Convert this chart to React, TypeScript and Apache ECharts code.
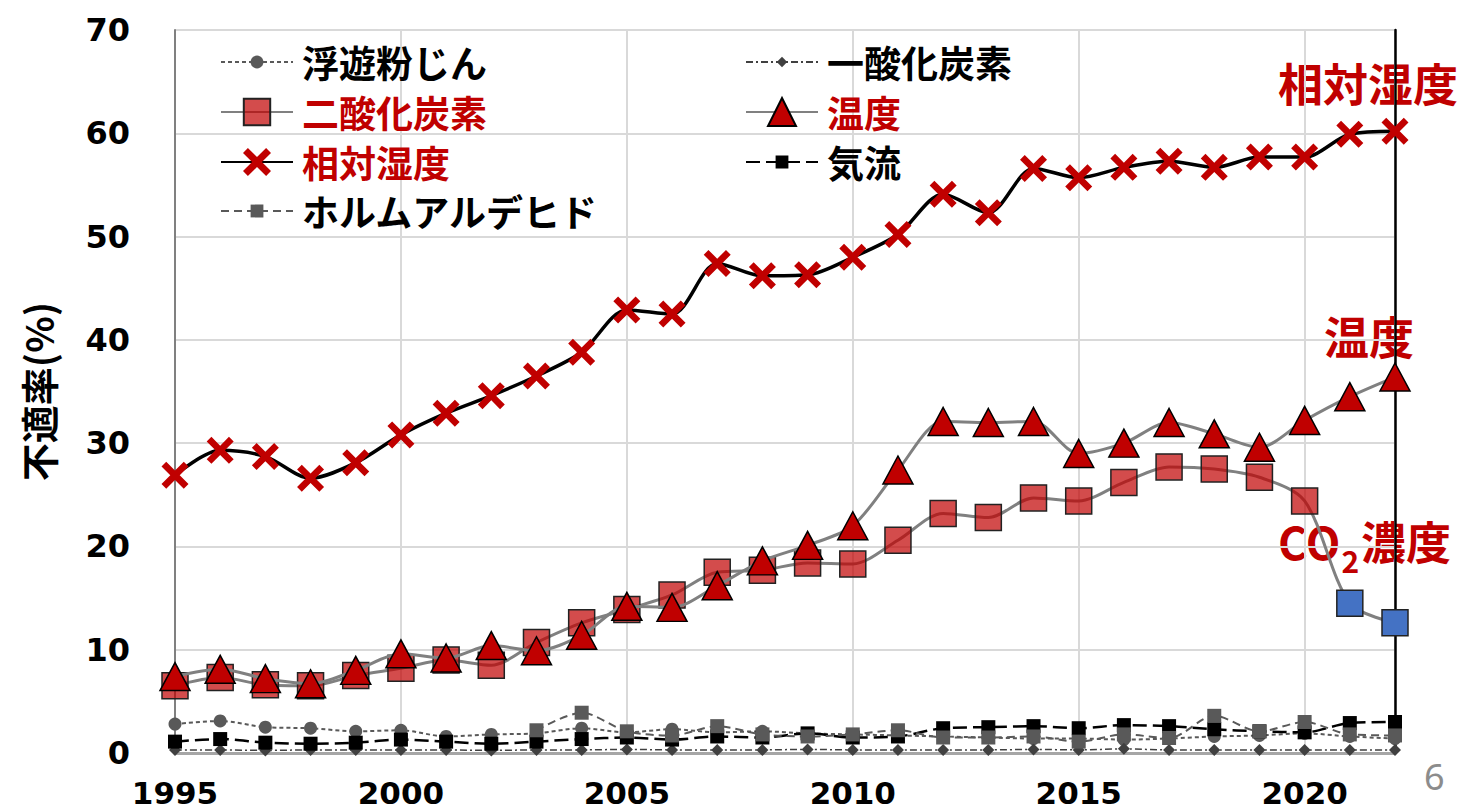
import React, { useEffect, useRef } from "react";
import * as echarts from "echarts";

const years = [1995, 1996, 1997, 1998, 1999, 2000, 2001, 2002, 2003, 2004, 2005, 2006, 2007, 2008, 2009, 2010, 2011, 2012, 2013, 2014, 2015, 2016, 2017, 2018, 2019, 2020, 2021, 2022];

const dust = [2.8, 3.1, 2.5, 2.4, 2.1, 2.2, 1.6, 1.8, 1.9, 2.4, 2.0, 2.3, 2.0, 2.1, 1.9, 1.8, 1.7, 1.6, 1.5, 1.4, 1.4, 1.3, 1.4, 1.6, 1.7, 1.9, 1.6, 1.4];
const carbonMonoxide = [0.3, 0.3, 0.25, 0.3, 0.3, 0.3, 0.3, 0.25, 0.3, 0.3, 0.35, 0.3, 0.3, 0.3, 0.35, 0.3, 0.3, 0.3, 0.3, 0.35, 0.3, 0.4, 0.3, 0.3, 0.3, 0.3, 0.3, 0.3];
const carbonDioxide = [6.5, 7.3, 6.6, 6.5, 7.5, 8.2, 9.0, 8.5, 10.7, 12.6, 13.9, 15.3, 17.5, 17.7, 18.4, 18.3, 20.6, 23.2, 22.8, 24.7, 24.4, 26.2, 27.7, 27.5, 26.7, 24.4, 14.5, 12.6];
const temperature = [7.4, 8.1, 7.2, 6.7, 8.0, 9.6, 9.2, 10.4, 9.9, 11.4, 14.2, 14.1, 16.2, 18.6, 20.1, 22.0, 27.4, 32.1, 32.0, 32.1, 29.0, 30.0, 32.0, 30.9, 29.6, 32.2, 34.5, 36.4];
const humidity = [26.9, 29.3, 28.7, 26.6, 28.1, 30.8, 32.9, 34.6, 36.5, 38.8, 42.9, 42.5, 47.4, 46.2, 46.3, 48.0, 50.2, 54.1, 52.3, 56.6, 55.7, 56.7, 57.3, 56.7, 57.7, 57.7, 59.9, 60.2];
const airflow = [1.1, 1.35, 1.0, 0.9, 1.0, 1.3, 1.1, 0.9, 1.1, 1.35, 1.5, 1.3, 1.6, 1.5, 1.9, 1.5, 1.6, 2.4, 2.5, 2.6, 2.4, 2.7, 2.6, 2.3, 2.1, 2.0, 2.9, 3.0];
const formaldehyde = [null, null, null, null, null, null, null, null, 2.2, 3.9, 2.1, 1.7, 2.6, 1.8, 1.6, 1.8, 2.2, 1.5, 1.5, 1.6, 1.1, 1.8, 1.45, 3.6, 2.1, 3.0, 1.8, 1.7];

// CO2 points that use the blue marker
const blueYears = [2021, 2022];

const yTicks = { min: 0, max: 70, interval: 10 };
const xTicks = { min: 1995, max: 2022, interval: 5 };

const RED = "#C00000";
const CJK = '"Noto Sans CJK JP", "Noto Sans", sans-serif';
const NUM = '"DejaVu Sans", sans-serif';

const X_PATH =
  "path://M0,3.5 L3.5,0 L10,6.5 L16.5,0 L20,3.5 L13.5,10 L20,16.5 L16.5,20 L10,13.5 L3.5,20 L0,16.5 L6.5,10 Z";

const pairs = (vals: (number | null)[]) => years.map((y, i) => [y, vals[i]]);

export default function App() {
  const ref = useRef<HTMLDivElement>(null);

  useEffect(() => {
    if (!ref.current) return;
    const chart = echarts.init(ref.current, null, { renderer: "svg" });

    const legendBase = (name: string, left: number, top: number, itemHeight: number, color: string) => ({
      data: [{ name, textStyle: { color } }],
      left,
      top,
      orient: "horizontal",
      padding: 0,
      itemGap: 0,
      itemWidth: 72,
      itemHeight,
      selectedMode: false,
      textStyle: { fontSize: 37, fontWeight: "bold", fontFamily: CJK, color, lineHeight: 38, padding: [0, 0, 0, 4] },
    });

    const co2Data = years.map((y, i) => {
      const isBlue = blueYears.includes(y);
      return isBlue
        ? { value: [y, carbonDioxide[i]], itemStyle: { color: "#4472C4", opacity: 1 } }
        : { value: [y, carbonDioxide[i]] };
    });

    const option: any = {
      animation: false,
      backgroundColor: "#ffffff",
      grid: { left: 175, right: 72, top: 30, bottom: 58, containLabel: false },
      legend: [
        legendBase("浮遊粉じん", 220, 43, 16, "#000000"),
        legendBase("二酸化炭素", 220, 93, 33, RED),
        legendBase("相対湿度", 220, 143, 35, RED),
        legendBase("ホルムアルデヒド", 220, 192, 16, "#000000"),
        legendBase("一酸化炭素", 745, 43, 13, "#000000"),
        legendBase("温度", 745, 93, 35, RED),
        legendBase("気流", 745, 143, 16, "#000000"),
      ],
      xAxis: {
        type: "value",
        min: xTicks.min,
        max: xTicks.max,
        interval: xTicks.interval,
        axisLine: { show: true, lineStyle: { color: "#A6A6A6", width: 3 } },
        axisTick: { show: false },
        axisLabel: {
          showMaxLabel: false,
          margin: 24,
          fontSize: 31,
          fontWeight: "bold",
          fontFamily: NUM,
          color: "#000000",
          formatter: (v: number) => String(v),
        },
        splitLine: { show: true, lineStyle: { color: "#D9D9D9", width: 2 } },
      },
      yAxis: [
        {
          type: "value",
          min: yTicks.min,
          max: yTicks.max,
          interval: yTicks.interval,
          name: "不適率(%)",
          nameLocation: "middle",
          nameRotate: 90,
          nameGap: 119,
          nameTextStyle: { fontSize: 38, fontWeight: "bold", fontFamily: CJK, color: "#000000" },
          axisLine: { show: true, lineStyle: { color: "#808080", width: 2 } },
          axisTick: { show: false },
          axisLabel: { margin: 45, fontSize: 32, fontWeight: "bold", fontFamily: NUM, color: "#000000" },
          splitLine: { show: true, lineStyle: { color: "#D9D9D9", width: 2 } },
        },
        {
          type: "value",
          position: "right",
          min: yTicks.min,
          max: yTicks.max,
          interval: yTicks.interval,
          axisLine: { show: true, lineStyle: { color: "#000000", width: 2.5 } },
          axisTick: { show: false },
          axisLabel: { show: false },
          splitLine: { show: false },
        },
      ],
      series: [
        {
          name: "浮遊粉じん",
          type: "line",
          smooth: 0.3,
          data: pairs(dust),
          symbol: "circle",
          symbolSize: 13,
          lineStyle: { color: "#595959", width: 2, type: [4, 3] },
          itemStyle: { color: "#595959" },
          z: 2,
        },
        {
          name: "一酸化炭素",
          type: "line",
          smooth: 0.3,
          data: pairs(carbonMonoxide),
          symbol: "diamond",
          symbolSize: 12,
          lineStyle: { color: "#404040", width: 1.5, type: [7, 3, 2, 3] },
          itemStyle: { color: "#404040" },
          z: 2,
        },
        {
          name: "二酸化炭素",
          type: "line",
          smooth: 0.3,
          data: co2Data,
          symbol: "rect",
          symbolSize: 26,
          lineStyle: { color: "#808080", width: 3 },
          itemStyle: { color: "rgba(192,0,0,0.7)", borderColor: "#222222", borderWidth: 1.5 },
          z: 3,
        },
        {
          name: "温度",
          type: "line",
          smooth: 0.3,
          data: pairs(temperature),
          symbol: "triangle",
          symbolSize: [30, 28],
          lineStyle: { color: "#808080", width: 3 },
          itemStyle: { color: RED, borderColor: "#000000", borderWidth: 1.5 },
          z: 4,
        },
        {
          name: "相対湿度",
          type: "line",
          smooth: 0.3,
          data: pairs(humidity),
          symbol: X_PATH,
          symbolSize: 27,
          lineStyle: { color: "#000000", width: 3.5 },
          itemStyle: { color: RED },
          z: 5,
        },
        {
          name: "気流",
          type: "line",
          smooth: 0.3,
          data: pairs(airflow),
          symbol: "rect",
          symbolSize: 14,
          lineStyle: { color: "#000000", width: 2.5, type: [14, 6] },
          itemStyle: { color: "#000000" },
          z: 6,
        },
        {
          name: "ホルムアルデヒド",
          type: "line",
          smooth: 0.3,
          data: pairs(formaldehyde),
          symbol: "rect",
          symbolSize: 14,
          connectNulls: false,
          lineStyle: { color: "#595959", width: 2, type: [8, 5] },
          itemStyle: { color: "#595959" },
          z: 7,
        },
      ],
      graphic: [
        {
          type: "text",
          left: 1278,
          top: 60,
          style: { text: "相対湿度", fill: RED, fontSize: 45, fontWeight: "bold", fontFamily: CJK },
        },
        {
          type: "text",
          left: 1324,
          top: 313,
          style: { text: "温度", fill: RED, fontSize: 45, fontWeight: "bold", fontFamily: CJK },
        },
        {
          type: "text",
          left: 1278,
          top: 518,
          style: {
            text: "{a|CO}{s|2}{a|濃度}",
            fill: RED,
            rich: {
              a: { fontSize: 45, fontWeight: "bold", fontFamily: CJK, fill: RED, lineHeight: 60, verticalAlign: "top" },
              s: { fontSize: 30, fontWeight: "bold", fontFamily: CJK, fill: RED, lineHeight: 32, padding: [24, 2, 0, 1] },
            },
          },
        },
        {
          type: "text",
          left: 1424,
          top: 758,
          style: { text: "6", fill: "#8C8C8C", fontSize: 36, fontFamily: '"Noto Sans", sans-serif' },
        },
      ],
    };

    chart.setOption(option);
    return () => chart.dispose();
  }, []);

  return (
    <div
      ref={ref}
      style={{ position: "absolute", left: 0, top: 0, width: 1467, height: 811, background: "#fff" }}
    />
  );
}
